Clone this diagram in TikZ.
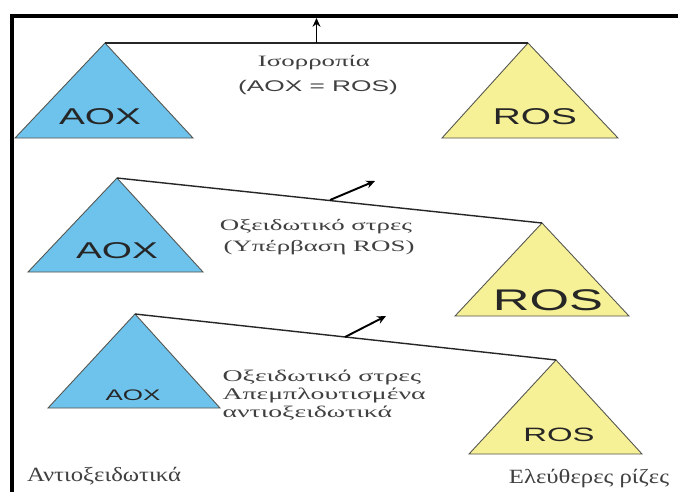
\documentclass[tikz,border=0pt]{standalone}
\usepackage{fontspec}
\setmainfont{Liberation Serif}
\newfontfamily\labelsans{Liberation Sans}
\usetikzlibrary{arrows.meta}
\definecolor{aoxblue}{RGB}{110,195,236}
\definecolor{rosyellow}{RGB}{246,240,150}
\definecolor{edgegray}{RGB}{85,85,80}
\begin{document}
\begin{tikzpicture}[x=0.02cm,y=-0.02cm,
  tri/.style={draw=edgegray,line width=0.5pt},
  beam/.style={black!85,line width=0.8pt},
  lift/.style={-{Stealth[length=5pt,width=4.5pt]},black,line width=1.1pt},
  lbl/.style={xscale=1.7,inner sep=0pt,text=black!85,font=\labelsans\fontsize{#1}{#1}\selectfont},
  grk/.style={xscale=1.7,inner sep=0pt,text=black!75,font=\fontsize{#1}{#1}\selectfont}]
\useasboundingbox[fill=white] (0,0) rectangle (678,491);
\draw[line width=2.3pt] (12,493) -- (12,16) -- (680,16);

% equilibrium
\coordinate (aoxtopA) at (105,43);
\coordinate (rostopA) at (528,43);
\coordinate (midA) at (316.5,43);
\coordinate (tipA) at (316.5,18);
\draw[tri,fill=aoxblue] (aoxtopA) -- (15,138) -- (193,138) -- cycle;
\draw[tri,fill=rosyellow] (rostopA) -- (442,138) -- (618,138) -- cycle;
\draw[beam] (aoxtopA) -- (rostopA);
\draw[lift] (midA) -- (tipA);
\node[lbl=13] (aoxA) at (100,117) {AOX};
\node[lbl=13] (rosA) at (535,117) {ROS};
\node[grk=9] (eqA) at (314,63) {Ισορροπία};
\node[lbl=8.8,text=black!75] (eqB) at (318,87) {(AOX = ROS)};

% excess of ROS
\coordinate (aoxtopB) at (117,178);
\coordinate (rostopB) at (542,223);
\coordinate (midB) at (330,200);
\coordinate (tipB) at (375,181);
\draw[tri,fill=aoxblue] (aoxtopB) -- (28,272) -- (203,272) -- cycle;
\draw[tri,fill=rosyellow] (rostopB) -- (455,316) -- (629,316) -- cycle;
\draw[beam] (aoxtopB) -- (rostopB);
\draw[lift] (midB) -- (tipB);
\node[lbl=13] (aoxB) at (117,251) {AOX};
\node[lbl=17] (rosB) at (548,300) {ROS};
\node[grk=9] (oxB) at (316,227) {Οξειδωτικό στρες};
\node[grk=9] (exB) at (319,248) {(Υπέρβαση ROS)};

% depleted antioxidants
\coordinate (aoxtopC) at (135,314);
\coordinate (rostopC) at (556,360);
\coordinate (midC) at (345,337);
\coordinate (tipC) at (386,316);
\draw[tri,fill=aoxblue] (aoxtopC) -- (48,408) -- (220,408) -- cycle;
\draw[tri,fill=rosyellow] (rostopC) -- (469,454) -- (642,454) -- cycle;
\draw[beam] (aoxtopC) -- (rostopC);
\draw[lift] (midC) -- (tipC);
\node[lbl=8.7] (aoxC) at (133,395) {AOX};
\node[lbl=11] (rosC) at (559,435) {ROS};
\node[grk=9.3,anchor=north west,align=left,
  font=\fontsize{9.3}{10}\selectfont] (oxC) at (222,370)
  {Οξειδωτικό στρες\\Απεμπλουτισμένα\\αντιοξειδωτικά};

\node[grk=11.5,xscale=0.72] (antox) at (104,476) {Αντιοξειδωτικά};
\node[grk=11.5,xscale=0.72] (freerad) at (589,479) {Ελεύθερες ρίζες};
\end{tikzpicture}
\end{document}
